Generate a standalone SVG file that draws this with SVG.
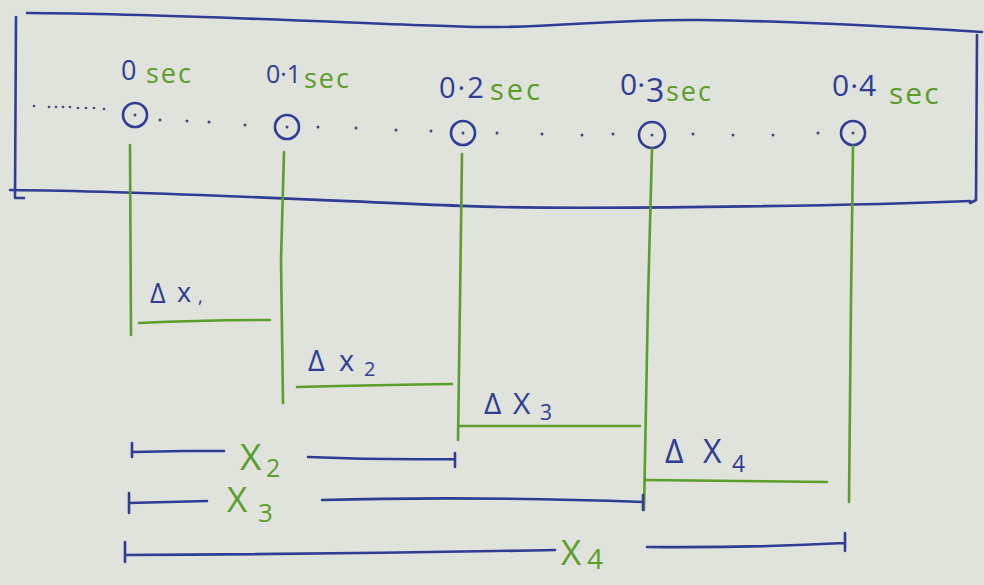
<svg xmlns="http://www.w3.org/2000/svg" width="984" height="585" viewBox="0 0 984 585">
<defs>
<style>
.bg{fill:#dfe3dc}
.blue{stroke:#2f3d94;fill:none;stroke-width:2.6;stroke-linecap:round;stroke-linejoin:round}
.green{stroke:#5c9d2c;fill:none;stroke-width:2.6;stroke-linecap:round;stroke-linejoin:round}
.dot{fill:#3a4a7a}
.t{font-family:"Open Sans","Liberation Sans",sans-serif}
.tb{fill:#2f3d94}
.tg{fill:#5c9d2c}
</style>
</defs>
<rect class="bg" x="0" y="0" width="984" height="585"/>
<g id="frame">
<path class="blue" d="M27,13 C200,14 400,26 480,27 S600,19 700,20 S900,27 982,32"/>
<path class="blue" d="M16,17 L15,198 L24,198"/>
<path class="blue" d="M10,190 C200,192 400,205 500,207 S850,206 970,201"/>
<path class="blue" d="M977,35 L976,200 L970,203"/>
</g>
<g id="dots">
<circle class="dot" cx="34" cy="106" r="1.3"/><circle class="dot" cx="49" cy="107" r="1.3"/><circle class="dot" cx="56" cy="107" r="1.3"/><circle class="dot" cx="63" cy="107" r="1.3"/><circle class="dot" cx="70" cy="107" r="1.3"/><circle class="dot" cx="78" cy="108" r="1.3"/><circle class="dot" cx="86" cy="108" r="1.3"/><circle class="dot" cx="94" cy="108" r="1.3"/><circle class="dot" cx="104" cy="109" r="1.3"/>
<circle class="dot" cx="160" cy="120" r="1.5"/><circle class="dot" cx="187" cy="121" r="1.5"/><circle class="dot" cx="209" cy="122" r="1.5"/><circle class="dot" cx="245" cy="125" r="1.5"/>
<circle class="dot" cx="318" cy="127" r="1.5"/><circle class="dot" cx="356" cy="128" r="1.5"/><circle class="dot" cx="396" cy="130" r="1.5"/><circle class="dot" cx="431" cy="131" r="1.5"/>
<circle class="dot" cx="497" cy="133" r="1.5"/><circle class="dot" cx="542" cy="134" r="1.5"/><circle class="dot" cx="582" cy="135" r="1.5"/><circle class="dot" cx="613" cy="134" r="1.5"/>
<circle class="dot" cx="693" cy="134" r="1.5"/><circle class="dot" cx="733" cy="135" r="1.5"/><circle class="dot" cx="773" cy="135" r="1.5"/><circle class="dot" cx="818" cy="133" r="1.5"/>
</g>
<g id="t0">
<circle class="blue" cx="135" cy="115" r="12"/><circle class="dot" cx="135" cy="115" r="1.5"/>
<text class="t"><tspan class="tb" x="121" y="80" font-size="27">0</tspan><tspan class="tg" x="146" y="83" font-size="27" letter-spacing="2">sec</tspan></text>
</g>
<g id="t1">
<circle class="blue" cx="287" cy="127" r="12"/><circle class="dot" cx="287" cy="127" r="1.5"/>
<text class="t"><tspan class="tb" x="266" y="83" font-size="25">0·1</tspan><tspan class="tg" x="304" y="88" font-size="27" letter-spacing="2">sec</tspan></text>
</g>
<g id="t2">
<circle class="blue" cx="463" cy="133" r="12"/><circle class="dot" cx="463" cy="133" r="1.5"/>
<text class="t"><tspan class="tb" x="439" y="98" font-size="29" letter-spacing="2">0·2</tspan><tspan class="tg" x="490" y="100" font-size="29" letter-spacing="3">sec</tspan></text>
</g>
<g id="t3">
<circle class="blue" cx="652" cy="135" r="13"/><circle class="dot" cx="652" cy="135" r="1.5"/>
<text class="t"><tspan class="tb" x="620" y="95" font-size="30">0·</tspan><tspan class="tb" x="646" y="102" font-size="32">3</tspan><tspan class="tg" x="666" y="101" font-size="27" letter-spacing="2">sec</tspan></text>
</g>
<g id="t4">
<circle class="blue" cx="853" cy="133" r="12"/><circle class="dot" cx="853" cy="133" r="1.5"/>
<text class="t"><tspan class="tb" x="832" y="96" font-size="30" letter-spacing="1">0·4</tspan><tspan class="tg" x="889" y="104" font-size="30" letter-spacing="2">sec</tspan></text>
</g>
<g id="connectors">
<path class="green" d="M130,145 L131,335"/>
<path class="green" d="M284,152 L281,260 L283,403"/>
<path class="green" d="M462,154 L460,300 L458,440"/>
<path class="green" d="M652,149 L648,300 L644,510"/>
<path class="green" d="M853,146 L851,300 L849,502"/>
<path class="green" d="M139,323 Q200,320 270,320"/>
<path class="green" d="M297,387 Q380,385 452,384"/>
<path class="green" d="M459,426 Q560,426 640,426"/>
<path class="green" d="M645,480 Q740,481 827,482"/>
<path class="blue" d="M132,443 L132,457 M132,452 L185,451 L224,451"/>
<path class="blue" d="M308,457 Q380,460 455,459 M455,453 L455,467"/>
<path class="blue" d="M129,493 L129,513 M129,503 L207,501"/>
<path class="blue" d="M322,500 Q470,496 643,502 M643,495 L643,510"/>
<path class="blue" d="M125,542 L125,562 M125,555 Q340,554 555,550"/>
<path class="blue" d="M647,547 Q750,548 845,543 M845,533 L845,551"/>
</g>
<g id="labels">
<text class="t tb" font-size="27"><tspan x="150" y="303">Δ</tspan><tspan x="177" y="302">x</tspan><tspan x="198" y="303" font-size="18">,</tspan></text>
<text class="t tb" font-size="29"><tspan x="308" y="371">Δ</tspan><tspan x="339" y="371">x</tspan><tspan x="364" y="376" font-size="20">2</tspan></text>
<text class="t tb" font-size="30"><tspan x="484" y="414">Δ</tspan><tspan x="513" y="414">X</tspan><tspan x="540" y="420" font-size="21">3</tspan></text>
<text class="t tb" font-size="32"><tspan x="665" y="463">Δ</tspan><tspan x="703" y="463">X</tspan><tspan x="732" y="472" font-size="23">4</tspan></text>
<text class="t tg" font-size="37"><tspan x="240" y="470">X</tspan><tspan x="266" y="477" font-size="25">2</tspan></text>
<text class="t tg" font-size="35"><tspan x="227" y="512">X</tspan><tspan x="258" y="522" font-size="26">3</tspan></text>
<text class="t tg" font-size="35"><tspan x="561" y="565">X</tspan><tspan x="587" y="569" font-size="28">4</tspan></text>
</g>
</svg>
